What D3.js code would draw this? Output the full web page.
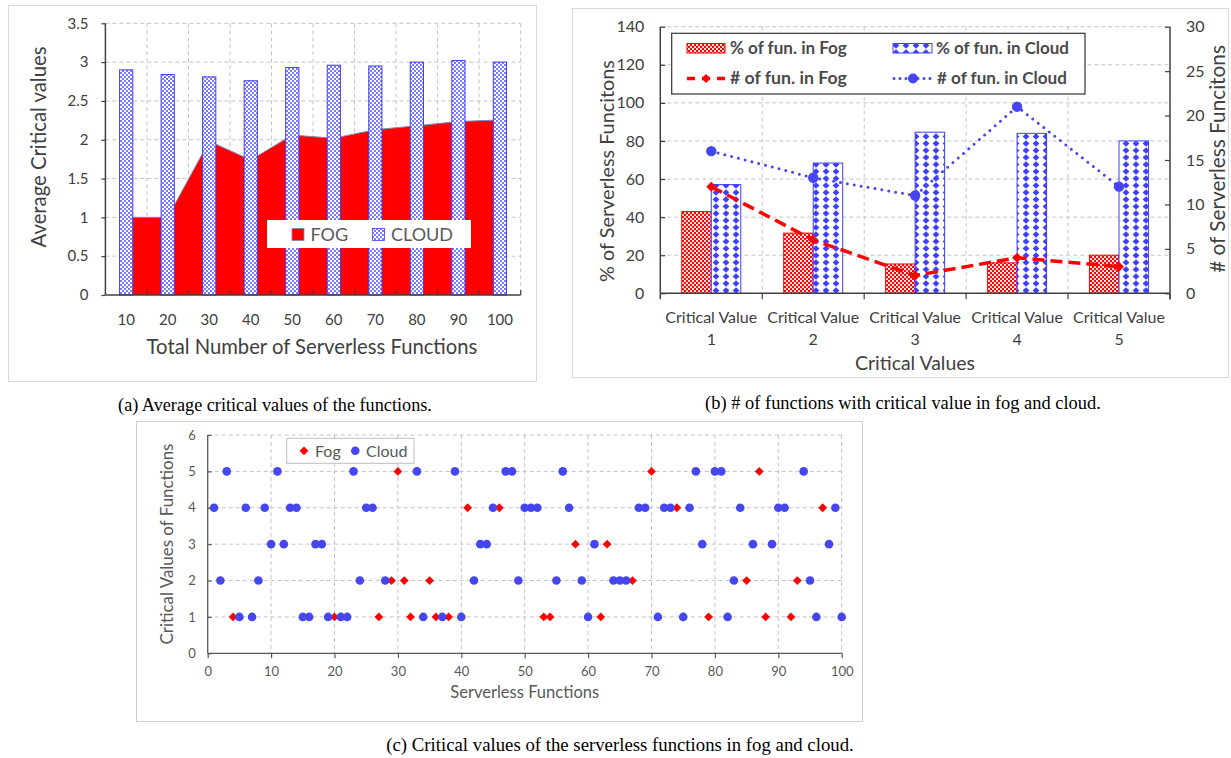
<!DOCTYPE html>
<html><head><meta charset="utf-8">
<script src="https://cdn.jsdelivr.net/npm/d3@7"></script>
<style>
body{margin:0;background:#fff}
svg{display:block}
text{font-family:Lato,'Noto Sans',sans-serif}
text.cap{font-family:'Liberation Serif','Times New Roman',serif}
</style></head>
<body><svg id="fig" width="1231" height="758"></svg>
<script>
// ---------- DATA ----------
// (a) average critical values
const countsA = [10,20,30,40,50,60,70,80,90,100];
const fogAvgA = [1.00,1.00,1.98,1.74,2.06,2.02,2.13,2.18,2.235,2.255];
const cloudAvgA = [2.90,2.84,2.81,2.76,2.93,2.96,2.95,3.00,3.02,3.00];
const ticksA = [0,0.5,1,1.5,2,2.5,3,3.5];
const seriesA = ['FOG','CLOUD'];

// (b) functions per critical value
const cvCats = ['1','2','3','4','5'];
const cvPrefix = 'Critical Value';
const pctFog = [42.9,31.6,15.4,16.0,20.0];
const pctCloud = [57.1,68.4,84.6,84.0,80.0];
const numFog = [12,6,2,4,3];
const numCloud = [16,13,11,21,12];
const ticksBLeft = [0,20,40,60,80,100,120,140];
const ticksBRight = [0,5,10,15,20,25,30];
const legendB = ['% of fun. in Fog','% of fun. in Cloud','# of fun. in Fog','# of fun. in Cloud'];

// (c) critical value of each serverless function
const fogFn = [4,20,27,29,30,31,32,35,36,38,41,46,53,54,58,62,63,67,70,74,79,85,87,88,92,93,97];
const fogCV = [1,1,1,2,5,2,1,2,1,1,4,4,1,1,3,1,3,2,5,4,1,2,5,1,1,2,4];
const cloudFn = [1,2,3,5,6,7,8,9,10,11,12,13,14,15,16,17,18,19,21,22,23,24,25,26,28,33,34,37,39,40,42,43,44,45,47,48,49,50,51,52,55,56,57,59,60,61,64,65,66,68,69,71,72,73,75,76,77,78,80,81,82,83,84,86,89,90,91,94,95,96,98,99,100];
const cloudCV = [4,2,5,1,4,1,2,4,3,5,3,4,4,1,1,3,3,1,1,1,5,2,4,4,2,5,1,1,5,1,2,3,3,4,5,5,2,4,4,4,2,5,4,2,1,3,2,2,2,4,4,1,4,4,1,4,5,3,5,5,1,2,4,3,3,4,4,5,2,1,3,4,1];
const ticksCX = [0,10,20,30,40,50,60,70,80,90,100];
const ticksCY = [0,1,2,3,4,5,6];

const captions = [
  '(a) Average critical values of the functions.',
  '(b) # of functions with critical value in fog and cloud.',
  '(c) Critical values of the serverless functions in fog and cloud.'
];

// ---------- HELPERS ----------
const RED = '#ff0000', BLUE = '#3f3fff', GRID = '#c4c4c4', AXIS = '#404040', TXT = '#404040';
const svg = d3.select('#fig');
svg.append('rect').attr('width',1231).attr('height',758).attr('fill','#fff');
function fit(sel, target){
  const w = sel.node().getComputedTextLength();
  const fs = parseFloat(sel.attr('font-size'));
  sel.attr('font-size', fs*target/w);
  return sel;
}
function diamond(r){ return `M0,${-r}L${r},0L0,${r}L${-r},0Z`; }
function styleAxis(g, color){
  g.selectAll('.domain').remove();
  g.selectAll('.tick line').attr('stroke', color).attr('stroke-width',1.2);
  g.selectAll('.tick text').attr('fill', TXT);
}

// patterns
const defs = svg.append('defs');
const pA = defs.append('pattern').attr('id','cloudDots').attr('patternUnits','userSpaceOnUse').attr('width',4).attr('height',4);
pA.append('rect').attr('width',4).attr('height',4).attr('fill','#fff');
pA.append('circle').attr('cx',1).attr('cy',1).attr('r',0.95).attr('fill',BLUE);
pA.append('circle').attr('cx',3).attr('cy',3).attr('r',0.95).attr('fill',BLUE);

const pF = defs.append('pattern').attr('id','fogDots').attr('patternUnits','userSpaceOnUse').attr('width',4).attr('height',4);
pF.append('rect').attr('width',4).attr('height',4).attr('fill',RED);
pF.append('circle').attr('cx',1).attr('cy',1).attr('r',1.1).attr('fill','#fff');
pF.append('circle').attr('cx',3).attr('cy',3).attr('r',1.1).attr('fill','#fff');

const pD = defs.append('pattern').attr('id','cloudDiamond').attr('patternUnits','userSpaceOnUse').attr('width',10).attr('height',7).attr('x',1).attr('y',0);
pD.append('rect').attr('width',10).attr('height',7).attr('fill','#fff');
pD.append('path').attr('d','M5,0.2L8.4,3.5L5,6.8L1.6,3.5Z').attr('fill',BLUE);

// ================= PANEL (a) =================
svg.append('rect').attr('x',8.5).attr('y',5.5).attr('width',528).attr('height',376).attr('fill','none').attr('stroke','#d9d9d9');
const A = {l:105.4, r:520.7, t:23.3, b:295};
const xA = d3.scaleBand().domain(countsA).range([A.l, A.r]);
const yA = d3.scaleLinear().domain([0,3.5]).range([A.b, A.t]);
const gA = svg.append('g');
gA.selectAll('.hg').data(ticksA.slice(1)).join('line')
  .attr('x1',A.l).attr('x2',A.r).attr('y1',d=>yA(d)).attr('y2',d=>yA(d))
  .attr('stroke',GRID).attr('stroke-dasharray','4,3');
gA.selectAll('.vg').data(countsA).join('line')
  .attr('x1',d=>xA(d)+xA.bandwidth()).attr('x2',d=>xA(d)+xA.bandwidth())
  .attr('y1',A.t).attr('y2',A.b).attr('stroke',GRID).attr('stroke-dasharray','4,3');
const dataA = countsA.map((n,i)=>({n, fog:fogAvgA[i], cloud:cloudAvgA[i]}));
const cx = d=>xA(d.n)+xA.bandwidth()/2;
gA.append('path').datum(dataA)
  .attr('d', d3.area().x(cx).y0(yA(0)).y1(d=>yA(d.fog)))
  .attr('fill',RED);
gA.append('path').datum(dataA)
  .attr('d', d3.line().x(cx).y(d=>yA(d.fog)))
  .attr('fill','none').attr('stroke','#7f86b8').attr('stroke-width',1);
const bwA = 13.2;
gA.selectAll('.cb').data(dataA).join('rect')
  .attr('x',d=>cx(d)-bwA/2).attr('width',bwA)
  .attr('y',d=>yA(d.cloud)).attr('height',d=>yA(0)-yA(d.cloud))
  .attr('fill','url(#cloudDots)').attr('stroke',BLUE).attr('stroke-width',1);
// axes
const axLA = svg.append('g').attr('transform',`translate(${A.l},0)`)
  .call(d3.axisLeft(yA).tickValues(ticksA).tickFormat(d3.format('~g')).tickSize(4).tickPadding(13));
styleAxis(axLA, AXIS);
axLA.selectAll('.tick text').attr('font-size',15);
const axBA = svg.append('g').attr('transform',`translate(0,${A.b})`)
  .call(d3.axisBottom(xA).tickSize(0).tickPadding(19));
styleAxis(axBA, AXIS);
axBA.selectAll('.tick text').attr('font-size',15);
gA.selectAll('.xt').data(countsA).join('line')
  .attr('x1',d=>xA(d)+xA.bandwidth()).attr('x2',d=>xA(d)+xA.bandwidth())
  .attr('y1',A.b-5).attr('y2',A.b).attr('stroke',AXIS).attr('stroke-width',1.2);
svg.append('line').attr('x1',A.l).attr('x2',A.l).attr('y1',A.t).attr('y2',A.b).attr('stroke',AXIS).attr('stroke-width',1.5);
svg.append('line').attr('x1',A.l).attr('x2',A.r).attr('y1',A.b).attr('y2',A.b).attr('stroke',AXIS).attr('stroke-width',1.5);
fit(svg.append('text').attr('x',312).attr('y',354).attr('text-anchor','middle').attr('font-size',20).attr('fill',TXT)
  .text('Total Number of Serverless Functions'), 331);
fit(svg.append('text').attr('transform','translate(39,147) rotate(-90)').attr('text-anchor','middle').attr('dy','0.35em')
  .attr('font-size',20).attr('fill',TXT).text('Average Critical values'), 201);
// legend (a)
const lgA = svg.append('g');
lgA.append('rect').attr('x',267).attr('y',220).attr('width',204).attr('height',28).attr('fill','#fff');
lgA.append('rect').attr('x',292).attr('y',228.5).attr('width',12).attr('height',12).attr('fill',RED).attr('stroke','#7f86b8').attr('stroke-width',0.8);
lgA.append('text').attr('x',310.5).attr('y',241).attr('font-size',18).attr('fill','#595959').text(seriesA[0]);
lgA.append('rect').attr('x',372.5).attr('y',228.5).attr('width',12).attr('height',12).attr('fill','url(#cloudDots)').attr('stroke',BLUE).attr('stroke-width',0.8);
lgA.append('text').attr('x',391).attr('y',241).attr('font-size',18).attr('fill','#595959').text(seriesA[1]);

// ================= PANEL (b) =================
svg.append('rect').attr('x',572.5).attr('y',8.5).attr('width',656).attr('height',369).attr('fill','none').attr('stroke','#d9d9d9');
const B = {l:660.3, r:1170, t:26.7, b:293.3};
const xB = d3.scaleBand().domain(cvCats).range([B.l, B.r]);
const yB = d3.scaleLinear().domain([0,140]).range([B.b, B.t]);
const yB2 = d3.scaleLinear().domain([0,30]).range([B.b, B.t]);
const gB = svg.append('g');
gB.selectAll('.hg').data(ticksBLeft.slice(1)).join('line')
  .attr('x1',B.l).attr('x2',B.r).attr('y1',d=>yB(d)).attr('y2',d=>yB(d))
  .attr('stroke',GRID).attr('stroke-dasharray','4,3');
gB.selectAll('.vg').data(cvCats.slice(0,-1)).join('line')
  .attr('x1',d=>xB(d)+xB.bandwidth()).attr('x2',d=>xB(d)+xB.bandwidth())
  .attr('y1',B.t).attr('y2',B.b).attr('stroke',GRID).attr('stroke-dasharray','4,3');
const dataB = cvCats.map((c,i)=>({c, pf:pctFog[i], pc:pctCloud[i], nf:numFog[i], nc:numCloud[i]}));
const cB = d=>xB(d.c)+xB.bandwidth()/2;
const bwB = 29.5;
gB.selectAll('.fb').data(dataB).join('rect')
  .attr('x',d=>cB(d)-bwB).attr('width',bwB).attr('y',d=>yB(d.pf)).attr('height',d=>yB(0)-yB(d.pf))
  .attr('fill','url(#fogDots)').attr('stroke',RED).attr('stroke-width',1);
gB.selectAll('.cbb').data(dataB).join('rect')
  .attr('x',d=>cB(d)).attr('width',bwB).attr('y',d=>yB(d.pc)).attr('height',d=>yB(0)-yB(d.pc))
  .attr('fill','url(#cloudDiamond)').attr('stroke',BLUE).attr('stroke-width',1);
// lines
gB.append('path').datum(dataB).attr('d',d3.line().x(cB).y(d=>yB2(d.nf)))
  .attr('fill','none').attr('stroke',RED).attr('stroke-width',3.5).attr('stroke-dasharray','12,6');
gB.selectAll('.fm').data(dataB).join('path').attr('transform',d=>`translate(${cB(d)},${yB2(d.nf)})`)
  .attr('d',diamond(5)).attr('fill',RED);
gB.append('path').datum(dataB).attr('d',d3.line().x(cB).y(d=>yB2(d.nc)))
  .attr('fill','none').attr('stroke','#4646f0').attr('stroke-width',3).attr('stroke-linecap','round').attr('stroke-dasharray','0,7');
gB.selectAll('.cm').data(dataB).join('circle').attr('cx',cB).attr('cy',d=>yB2(d.nc)).attr('r',5.2).attr('fill','#4646f0');
// axes
const axLB = svg.append('g').attr('transform',`translate(${B.l},0)`)
  .call(d3.axisLeft(yB).tickValues(ticksBLeft).tickSize(-5).tickPadding(16));
styleAxis(axLB, AXIS); axLB.selectAll('.tick text').attr('font-size',16);
const axRB = svg.append('g').attr('transform',`translate(${B.r},0)`)
  .call(d3.axisRight(yB2).tickValues(ticksBRight).tickSize(-5).tickPadding(16));
styleAxis(axRB, AXIS); axRB.selectAll('.tick text').attr('font-size',16);
gB.selectAll('.xt').data(cvCats).join('line')
  .attr('x1',d=>xB(d)+xB.bandwidth()).attr('x2',d=>xB(d)+xB.bandwidth())
  .attr('y1',B.b).attr('y2',B.b+6).attr('stroke',AXIS).attr('stroke-width',1.2);
svg.append('line').attr('x1',B.l).attr('x2',B.l).attr('y1',B.t).attr('y2',B.b+6).attr('stroke',AXIS).attr('stroke-width',1.5);
svg.append('line').attr('x1',B.r).attr('x2',B.r).attr('y1',B.t).attr('y2',B.b+6).attr('stroke',AXIS).attr('stroke-width',1.5);
svg.append('line').attr('x1',B.l).attr('x2',B.r).attr('y1',B.b).attr('y2',B.b).attr('stroke',AXIS).attr('stroke-width',1.5);
const xlB = svg.append('g');
xlB.selectAll('.l1').data(dataB).join('text').attr('x',cB).attr('y',322.5).attr('text-anchor','middle')
  .attr('font-size',16).attr('fill',TXT).text(cvPrefix);
xlB.selectAll('.l2').data(dataB).join('text').attr('x',cB).attr('y',345).attr('text-anchor','middle')
  .attr('font-size',16).attr('fill',TXT).text(d=>d.c);
fit(svg.append('text').attr('x',915).attr('y',369.5).attr('text-anchor','middle').attr('font-size',19).attr('fill',TXT)
  .text('Critical Values'), 120);
fit(svg.append('text').attr('transform','translate(607,171) rotate(-90)').attr('text-anchor','middle').attr('dy','0.35em')
  .attr('font-size',20).attr('fill',TXT).text('% of Serverless Funcitons'), 222);
fit(svg.append('text').attr('transform','translate(1218,159) rotate(-90)').attr('text-anchor','middle').attr('dy','0.35em')
  .attr('font-size',20).attr('fill',TXT).text('# of Serverless Funcitons'), 228);
// legend (b)
const lgB = svg.append('g');
lgB.append('rect').attr('x',671.7).attr('y',33.3).attr('width',413.3).attr('height',60.7).attr('fill','#fff').attr('stroke','#333').attr('stroke-width',1.2);
lgB.append('rect').attr('x',687).attr('y',43.5).attr('width',38).attr('height',9.5).attr('fill','url(#fogDots)').attr('stroke',RED);
lgB.append('rect').attr('x',893).attr('y',43.5).attr('width',39).attr('height',9.5).attr('fill','url(#cloudDiamond)').attr('stroke',BLUE);
lgB.append('line').attr('x1',687).attr('x2',725).attr('y1',78.5).attr('y2',78.5).attr('stroke',RED).attr('stroke-width',3.5).attr('stroke-dasharray','8,7');
lgB.append('path').attr('transform','translate(706,78.5)').attr('d',diamond(4.5)).attr('fill',RED);
lgB.append('line').attr('x1',894).attr('x2',932).attr('y1',78.5).attr('y2',78.5).attr('stroke','#4646f0').attr('stroke-width',3).attr('stroke-linecap','round').attr('stroke-dasharray','0,6');
lgB.append('circle').attr('cx',913).attr('cy',78.5).attr('r',5).attr('fill','#4646f0');
const lgPos = [[730,54],[936,54],[730,84],[937,84]];
const lgW = [117,133,117,130];
legendB.forEach((t,i)=>{
  fit(lgB.append('text').attr('x',lgPos[i][0]).attr('y',lgPos[i][1]).attr('font-size',15).attr('font-weight',700)
    .attr('fill','#4a4a4a').text(t), lgW[i]);
});

// ================= PANEL (c) =================
svg.append('rect').attr('x',136.5).attr('y',421.5).attr('width',726).attr('height',300).attr('fill','none').attr('stroke','#d0d0d0');
const C = {l:207.7, r:841.7, t:435, b:653.3};
const xC = d3.scaleLinear().domain([0,100]).range([C.l, C.r]);
const yC = d3.scaleLinear().domain([0,6]).range([C.b, C.t]);
const gC = svg.append('g');
gC.selectAll('.hg').data(ticksCY.slice(1)).join('line')
  .attr('x1',C.l).attr('x2',C.r).attr('y1',d=>yC(d)).attr('y2',d=>yC(d))
  .attr('stroke',GRID).attr('stroke-dasharray','4,3');
gC.selectAll('.vg').data(ticksCX.slice(1)).join('line')
  .attr('x1',d=>xC(d)).attr('x2',d=>xC(d)).attr('y1',C.t).attr('y2',C.b)
  .attr('stroke',GRID).attr('stroke-dasharray','4,3');
const axLC = svg.append('g').attr('transform',`translate(${C.l},0)`)
  .call(d3.axisLeft(yC).tickValues(ticksCY).tickFormat(d3.format('d')).tickSize(-4).tickPadding(12));
styleAxis(axLC, '#595959'); axLC.selectAll('.tick text').attr('font-size',13).attr('fill','#595959');
const axBC = svg.append('g').attr('transform',`translate(0,${C.b})`)
  .call(d3.axisBottom(xC).tickValues(ticksCX).tickFormat(d3.format('d')).tickSize(5).tickPadding(8));
styleAxis(axBC, '#595959'); axBC.selectAll('.tick text').attr('font-size',13).attr('fill','#595959');
svg.append('line').attr('x1',C.l).attr('x2',C.l).attr('y1',C.t).attr('y2',C.b).attr('stroke','#595959').attr('stroke-width',1.3);
svg.append('line').attr('x1',C.l).attr('x2',C.r).attr('y1',C.b).attr('y2',C.b).attr('stroke','#595959').attr('stroke-width',1.3);
const fogPts = fogFn.map((f,i)=>({f, v:fogCV[i]}));
const cloudPts = cloudFn.map((f,i)=>({f, v:cloudCV[i]}));
gC.selectAll('.fp').data(fogPts).join('path').attr('transform',d=>`translate(${xC(d.f)},${yC(d.v)})`)
  .attr('d',diamond(4.4)).attr('fill',RED);
gC.selectAll('.cp').data(cloudPts).join('circle').attr('cx',d=>xC(d.f)).attr('cy',d=>yC(d.v)).attr('r',4.3).attr('fill','#4646f0');
fit(svg.append('text').attr('x',524.7).attr('y',698).attr('text-anchor','middle').attr('font-size',15).attr('fill','#595959')
  .text('Serverless Functions'), 149);
fit(svg.append('text').attr('transform','translate(167,544) rotate(-90)').attr('text-anchor','middle').attr('dy','0.35em')
  .attr('font-size',15).attr('fill','#595959').text('Critical Values of Functions'), 201);
// legend (c)
const lgC = svg.append('g');
lgC.append('rect').attr('x',286.7).attr('y',438.3).attr('width',127.3).attr('height',25).attr('fill','#fff').attr('stroke','#bfbfbf');
lgC.append('path').attr('transform','translate(304,450.8)').attr('d',diamond(4.4)).attr('fill',RED);
lgC.append('text').attr('x',315).attr('y',456.5).attr('font-size',16).attr('fill','#595959').text('Fog');
lgC.append('circle').attr('cx',355.3).attr('cy',450.8).attr('r',4.3).attr('fill','#4646f0');
lgC.append('text').attr('x',366).attr('y',456.5).attr('font-size',16).attr('fill','#595959').text('Cloud');

// ================= CAPTIONS =================
const capPos = [[275,411,314],[903,409,396],[620,751,468]];
captions.forEach((t,i)=>{
  fit(svg.append('text').attr('class','cap').attr('x',capPos[i][0]).attr('y',capPos[i][1]).attr('text-anchor','middle')
    .attr('font-size',15).attr('fill','#000').text(t), capPos[i][2]);
});
</script>
</body></html>
